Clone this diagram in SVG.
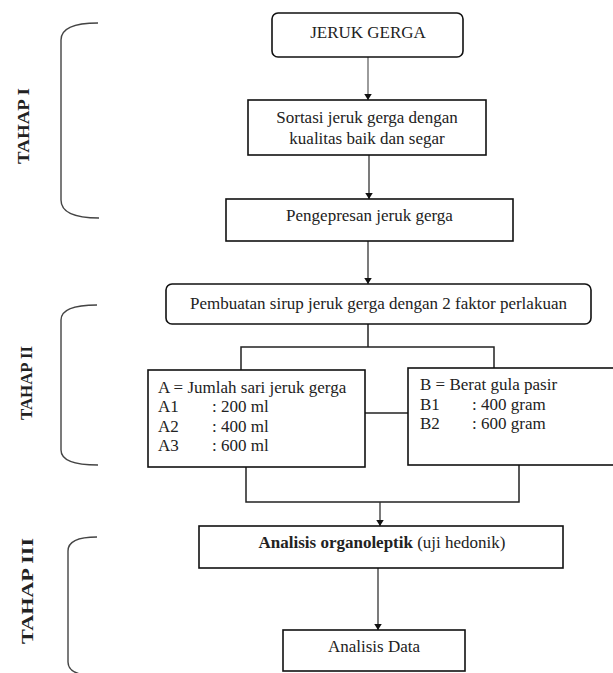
<svg xmlns="http://www.w3.org/2000/svg" width="613" height="673" viewBox="0 0 613 673">
<style>
  .box { fill: #fff; stroke: #111; stroke-width: 1.6; }
  .t { font-family: "Liberation Serif", "Times New Roman", serif; font-size: 17px; fill: #222; }
  .c { text-anchor: middle; }
  .stage { font-family: "Liberation Serif", "Times New Roman", serif; font-size: 17px; font-weight: bold; fill: #222; text-anchor: middle; }
  .brace { fill: none; stroke: #444; stroke-width: 1.4; }
  .line { fill: none; stroke: #222; stroke-width: 1.5; }
  .arr { fill: none; stroke: #333; stroke-width: 1.3; marker-end: url(#ah); }
</style>
<defs>
  <marker id="ah" viewBox="0 0 8 10" refX="8" refY="5" markerWidth="6" markerHeight="8" orient="auto" markerUnits="userSpaceOnUse">
    <path d="M0,0 L8,5 L0,10 z" fill="#111"/>
  </marker>
</defs>
<rect width="613" height="673" fill="#fff"/>

<g id="stages">
  <g id="tahap1">
    <path class="brace" d="M98,23 C74,23 61,28 61,40 L61,200 C61,212 74,218 99,218"/>
    <text class="stage" transform="translate(29,126) rotate(-90)" textLength="76" lengthAdjust="spacingAndGlyphs">TAHAP I</text>
  </g>
  <g id="tahap2">
    <path class="brace" d="M97,305 C74,305 61,310 61,320 L61,450 C61,460 74,465 98,465"/>
    <text class="stage" transform="translate(32,383) rotate(-90)" textLength="74" lengthAdjust="spacingAndGlyphs">TAHAP II</text>
  </g>
  <g id="tahap3">
    <path class="brace" d="M97,537 C79,537 68,541 68,551 L68,662 C68,668 72,672 80,674"/>
    <text class="stage" transform="translate(33,591) rotate(-90)" textLength="106" lengthAdjust="spacingAndGlyphs">TAHAP III</text>
  </g>
</g>

<g id="connectors">
  <line class="arr" x1="368" y1="57" x2="368" y2="100" style="stroke:#666"/>
  <line class="arr" x1="369" y1="155" x2="369" y2="199"/>
  <line class="arr" x1="368" y1="241" x2="368" y2="284"/>
  <polyline class="line" points="368,324 368,347"/>
  <polyline class="line" points="241,370 241,347 494,347 494,368"/>
  <line class="line" x1="365" y1="413" x2="408" y2="413"/>
  <polyline class="line" points="246,467 246,502 519,502 519,465"/>
  <line class="arr" x1="380" y1="502" x2="380" y2="526"/>
  <line class="arr" x1="378" y1="568" x2="378" y2="630"/>
</g>

<g id="jeruk-gerga">
  <rect class="box" x="272" y="13" width="191" height="44" rx="6"/>
  <text class="t c" x="368" y="37.5">JERUK GERGA</text>
</g>

<g id="sortasi">
  <rect class="box" x="248" y="100" width="238" height="55"/>
  <text class="t c" x="367" y="123">Sortasi jeruk gerga dengan</text>
  <text class="t c" x="367" y="144">kualitas baik dan segar</text>
</g>

<g id="pengepresan">
  <rect class="box" x="226" y="199" width="287" height="42"/>
  <text class="t c" x="369.5" y="221">Pengepresan jeruk gerga</text>
</g>

<g id="pembuatan">
  <rect class="box" x="166" y="284" width="425" height="40" rx="6"/>
  <text class="t c" x="378.5" y="309">Pembuatan sirup jeruk gerga dengan 2 faktor perlakuan</text>
</g>

<g id="faktor-a">
  <rect class="box" x="148" y="370" width="217" height="97"/>
  <text class="t" x="158" y="393">A = Jumlah sari jeruk gerga</text>
  <text class="t" x="158" y="412">A1</text><text class="t" x="212" y="412">: 200 ml</text>
  <text class="t" x="158" y="432">A2</text><text class="t" x="212" y="432">: 400 ml</text>
  <text class="t" x="158" y="451">A3</text><text class="t" x="212" y="451">: 600 ml</text>
</g>

<g id="faktor-b">
  <rect class="box" x="408" y="368" width="215" height="97"/>
  <text class="t" x="420" y="390">B = Berat gula pasir</text>
  <text class="t" x="420" y="410">B1</text><text class="t" x="472" y="410">: 400 gram</text>
  <text class="t" x="420" y="429">B2</text><text class="t" x="472" y="429">: 600 gram</text>
</g>

<g id="organoleptik">
  <rect class="box" x="199" y="526" width="364" height="42"/>
  <text class="t c" x="382" y="548"><tspan font-weight="bold">Analisis organoleptik</tspan> (uji hedonik)</text>
</g>

<g id="analisis-data">
  <rect class="box" x="283" y="630" width="182" height="41"/>
  <text class="t c" x="374" y="652">Analisis Data</text>
</g>
</svg>
